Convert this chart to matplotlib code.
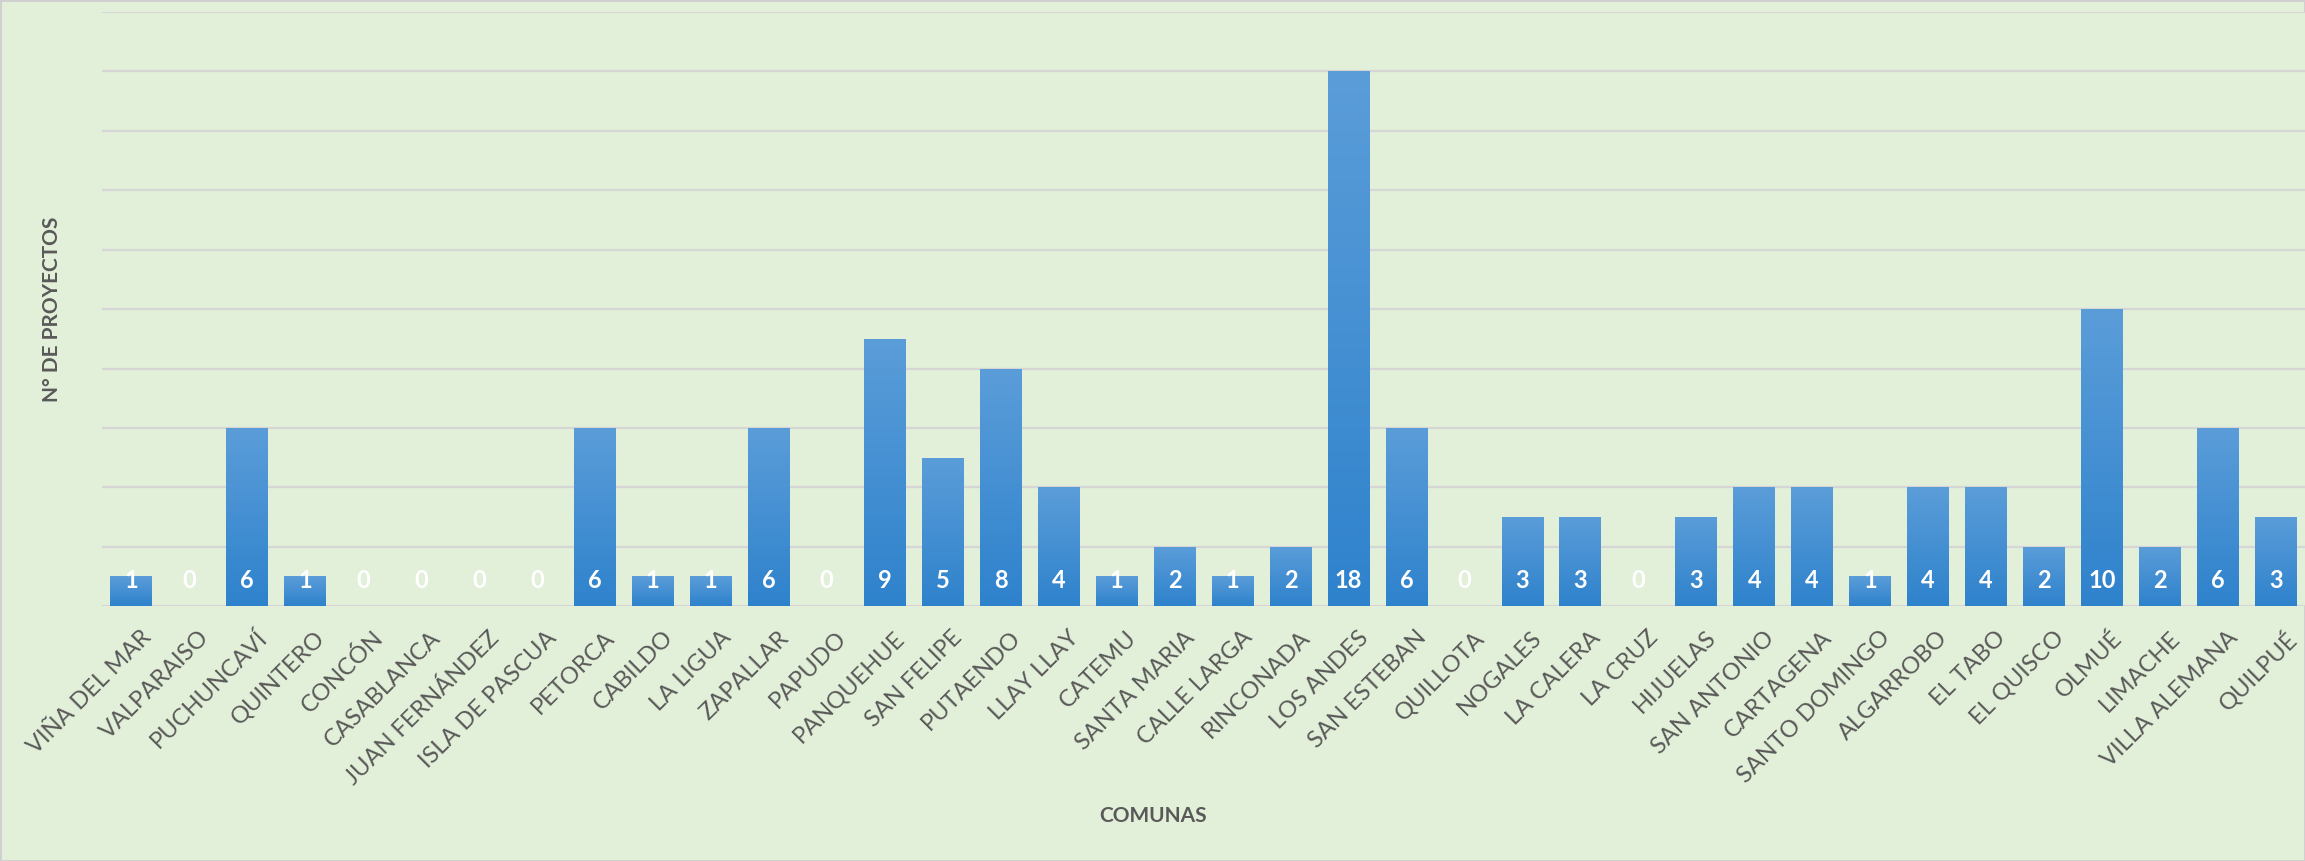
import matplotlib
matplotlib.use("Agg")
import matplotlib.pyplot as plt
from matplotlib import transforms
from matplotlib.colors import LinearSegmentedColormap
import numpy as np

comunas = ["VIÑA DEL MAR", "VALPARAISO", "PUCHUNCAVÍ", "QUINTERO", "CONCÓN",
           "CASABLANCA", "JUAN FERNÁNDEZ", "ISLA DE PASCUA", "PETORCA", "CABILDO",
           "LA LIGUA", "ZAPALLAR", "PAPUDO", "PANQUEHUE", "SAN FELIPE", "PUTAENDO",
           "LLAY LLAY", "CATEMU", "SANTA MARIA", "CALLE LARGA", "RINCONADA",
           "LOS ANDES", "SAN ESTEBAN", "QUILLOTA", "NOGALES", "LA CALERA", "LA CRUZ",
           "HIJUELAS", "SAN ANTONIO", "CARTAGENA", "SANTO DOMINGO", "ALGARROBO",
           "EL TABO", "EL QUISCO", "OLMUÉ", "LIMACHE", "VILLA ALEMANA", "QUILPUÉ"]
proyectos = [1, 0, 6, 1, 0, 0, 0, 0, 6, 1, 1, 6, 0, 9, 5, 8, 4, 1, 2, 1, 2,
             18, 6, 0, 3, 3, 0, 3, 4, 4, 1, 4, 4, 2, 10, 2, 6, 3]

bg = '#e2efd9'
grey_txt = '#595959'
plt.rcParams['font.family'] = ['Lato', 'DejaVu Sans']

fig = plt.figure(figsize=(23.05, 8.61), dpi=100, facecolor=bg,
                 edgecolor='#d0d0d0', linewidth=2)
ax = fig.add_axes([0.0443, 0.296, 0.9557, 0.690])
ax.set_facecolor(bg)

x = np.arange(len(comunas))
bars = ax.bar(x, proyectos, width=0.72, color='none', zorder=3)

# vertical gradient inside every bar: lighter top, darker bottom
cmap = LinearSegmentedColormap.from_list('bar', ['#2e82cc', '#5b9dd9'])
grad = np.linspace(0, 1, 256).reshape(-1, 1)
for b in bars:
    if b.get_height() <= 0:
        continue
    x0, w, h = b.get_x(), b.get_width(), b.get_height()
    im = ax.imshow(grad, cmap=cmap, origin='lower', aspect='auto',
                   extent=[x0, x0 + w, 0, h], zorder=3)
    im.set_clip_path(b)

for xi, v in zip(x, proyectos):
    ax.text(xi, 0.85, str(v), ha='center', va='center', color='white',
            fontsize=17, fontweight='bold', zorder=4)

ax.set_xlim(-0.5, len(comunas) - 0.5)
ax.set_ylim(0, 20)
ax.set_yticks(np.arange(0, 21, 2))
ax.yaxis.grid(True, color='#d6d6d6', linewidth=1.6, zorder=0)
ax.tick_params(axis='y', left=False, labelleft=False)
for s in ax.spines.values():
    s.set_visible(False)

ax.set_xticks(x)
ax.set_xticklabels(comunas, rotation=45, ha='right', va='top',
                   rotation_mode='anchor', fontsize=17, color=grey_txt)
ax.tick_params(axis='x', length=0, pad=15)
offset = transforms.ScaledTranslation(9 / 100, 0, fig.dpi_scale_trans)
for lab in ax.get_xticklabels():
    lab.set_transform(lab.get_transform() + offset)

fig.text(1153 / 2305, 1 - 816 / 861, 'COMUNAS', ha='center', va='center',
         fontsize=15, fontweight='bold', color=grey_txt)
fig.text(52 / 2305, 1 - 309 / 861, 'N° DE PROYECTOS', ha='center', va='center',
         rotation=90, fontsize=15, fontweight='bold', color=grey_txt)

fig.savefig('out.png', dpi=100, facecolor=bg, edgecolor='#d0d0d0')
